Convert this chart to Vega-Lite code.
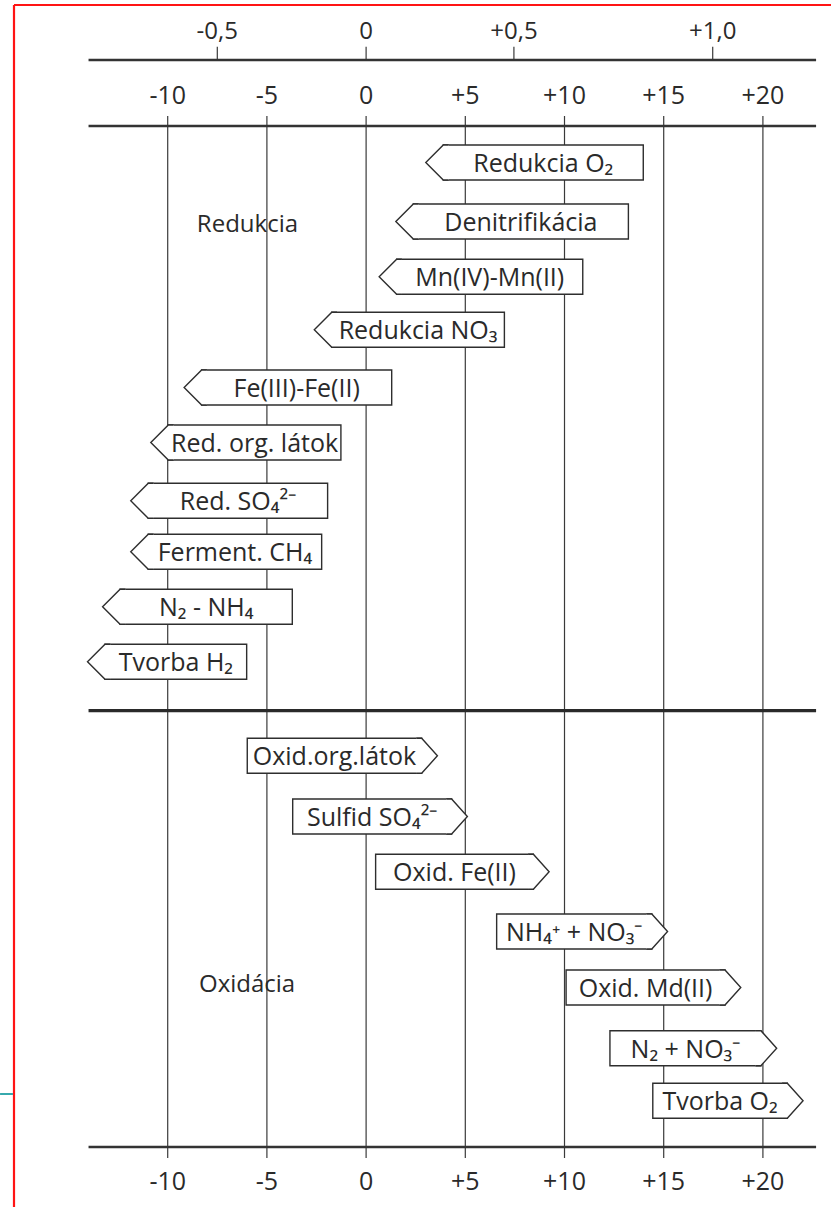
{
  "$schema": "https://vega.github.io/schema/vega-lite/v6.json",
  "width": 817,
  "height": 1202,
  "autosize": {"type": "none"},
  "padding": {"left": 14, "top": 5, "right": 0, "bottom": 0},
  "background": "white",
  "config": {"view": {"stroke": null}, "font": "Open Sans", "text": {"font": "Open Sans"}},
  "datasets": {
    "boxes": [
      {"label": "Redukcia O₂", "kind": "red", "base": 3.89, "end": 13.97, "top": 14.0, "bottom": 17.5},
      {"label": "Denitrifikácia", "kind": "red", "base": 2.38, "end": 13.22, "top": 19.9, "bottom": 23.4},
      {"label": "Mn(IV)-Mn(II)", "kind": "red", "base": 1.54, "end": 10.92, "top": 25.43, "bottom": 28.93},
      {"label": "Redukcia NO₃", "kind": "red", "base": -1.73, "end": 6.97, "top": 30.73, "bottom": 34.23},
      {"label": "Fe(III)-Fe(II)", "kind": "red", "base": -8.29, "end": 1.29, "top": 36.5, "bottom": 40.0},
      {"label": "Red. org. látok", "kind": "red", "base": -9.97, "end": -1.27, "top": 42.0, "bottom": 45.5},
      {"label": "Red. SO₄²⁻", "kind": "red", "base": -10.98, "end": -1.94, "top": 47.83, "bottom": 51.33},
      {"label": "Ferment. CH₄", "kind": "red", "base": -10.98, "end": -2.24, "top": 52.93, "bottom": 56.43},
      {"label": "N₂ - NH₄", "kind": "red", "base": -12.4, "end": -3.72, "top": 58.43, "bottom": 61.93},
      {"label": "Tvorba H₂", "kind": "red", "base": -13.16, "end": -6.02, "top": 63.93, "bottom": 67.43},
      {"label": "Oxid.org.látok", "kind": "ox", "base": -5.99, "end": 2.8, "top": 73.33, "bottom": 76.83},
      {"label": "Sulfid SO₄²⁻", "kind": "ox", "base": -3.7, "end": 4.31, "top": 79.4, "bottom": 82.9},
      {"label": "Oxid. Fe(II)", "kind": "ox", "base": 0.48, "end": 8.43, "top": 84.93, "bottom": 88.43},
      {"label": "NH₄⁺ + NO₃⁻", "kind": "ox", "base": 6.58, "end": 14.4, "top": 90.9, "bottom": 94.4},
      {"label": "Oxid. Md(II)", "kind": "ox", "base": 10.08, "end": 18.09, "top": 96.5, "bottom": 100.0},
      {"label": "N₂ + NO₃⁻", "kind": "ox", "base": 12.29, "end": 19.9, "top": 102.57, "bottom": 106.07},
      {"label": "Tvorba O₂", "kind": "ox", "base": 14.45, "end": 21.23, "top": 107.83, "bottom": 111.33}
    ],
    "grid": [
      {"pe": -10, "t": "-10"}, {"pe": -5, "t": "-5"}, {"pe": 0, "t": "0"}, {"pe": 5, "t": "+5"},
      {"pe": 10, "t": "+10"}, {"pe": 15, "t": "+15"}, {"pe": 20, "t": "+20"}
    ],
    "eh": [
      {"pos": -7.5, "t": "-0,5"}, {"pos": 0, "t": "0"}, {"pos": 7.45, "t": "+0,5"}, {"pos": 17.47, "t": "+1,0"}
    ],
    "hlines": [
      {"y": 5.5, "kind": "axis"}, {"y": 12.1, "kind": "axis"}, {"y": 70.57, "kind": "divider"}, {"y": 114.2, "kind": "axis"}
    ],
    "sections": [
      {"t": "Redukcia", "pos": -5.98, "y": 22.67},
      {"t": "Oxidácia", "pos": -6.0, "y": 98.73}
    ]
  },
  "layer": [
    {
      "data": {"values": [{}]},
      "mark": {"type": "rule", "color": "#ff1414", "strokeWidth": 2.2},
      "encoding": {
        "x": {"datum": -17.747, "type": "quantitative", "scale": {"domain": [-17.747, 23.432], "nice": false, "zero": false}, "axis": null},
        "y": {"datum": 0, "type": "quantitative", "scale": {"domain": [0, 120.2], "nice": false, "zero": false, "reverse": true}, "axis": null},
        "y2": {"datum": 120.2}
      }
    },
    {
      "data": {"values": [{}]},
      "mark": {"type": "rule", "color": "#ff1414", "strokeWidth": 2.2},
      "encoding": {
        "x": {"datum": -17.747, "type": "quantitative", "scale": {"domain": [-17.747, 23.432], "nice": false, "zero": false}, "axis": null},
        "x2": {"datum": 23.432},
        "y": {"datum": 0, "type": "quantitative", "scale": {"domain": [0, 120.2], "nice": false, "zero": false, "reverse": true}, "axis": null}
      }
    },
    {
      "data": {"values": [{}]},
      "mark": {"type": "rule", "color": "#36a9ad", "strokeWidth": 2},
      "encoding": {
        "x": {"datum": -18.45, "type": "quantitative", "scale": {"domain": [-17.747, 23.432], "nice": false, "zero": false}, "axis": null},
        "x2": {"datum": -17.8},
        "y": {"datum": 108.9, "type": "quantitative", "scale": {"domain": [0, 120.2], "nice": false, "zero": false, "reverse": true}, "axis": null}
      }
    },
    {
      "data": {"name": "grid"},
      "mark": {"type": "rule", "color": "#3a3a3a", "strokeWidth": 1.2},
      "encoding": {
        "x": {"field": "pe", "type": "quantitative", "scale": {"domain": [-17.747, 23.432], "nice": false, "zero": false}, "axis": null},
        "y": {"datum": 11.1, "type": "quantitative", "scale": {"domain": [0, 120.2], "nice": false, "zero": false, "reverse": true}, "axis": null},
        "y2": {"datum": 115.3}
      }
    },
    {
      "data": {"name": "eh"},
      "mark": {"type": "rule", "color": "#3a3a3a", "strokeWidth": 1.2},
      "encoding": {
        "x": {"field": "pos", "type": "quantitative", "scale": {"domain": [-17.747, 23.432], "nice": false, "zero": false}, "axis": null},
        "y": {"datum": 4.17, "type": "quantitative", "scale": {"domain": [0, 120.2], "nice": false, "zero": false, "reverse": true}, "axis": null},
        "y2": {"datum": 5.5}
      }
    },
    {
      "data": {"name": "hlines"},
      "transform": [{"filter": {"field": "kind", "equal": "axis"}}],
      "mark": {"type": "rule", "color": "#333333", "strokeWidth": 2.4},
      "encoding": {
        "x": {"datum": -13.99, "type": "quantitative", "scale": {"domain": [-17.747, 23.432], "nice": false, "zero": false}, "axis": null},
        "x2": {"datum": 22.68},
        "y": {"field": "y", "type": "quantitative", "scale": {"domain": [0, 120.2], "nice": false, "zero": false, "reverse": true}, "axis": null}
      }
    },
    {
      "data": {"name": "hlines"},
      "transform": [{"filter": {"field": "kind", "equal": "divider"}}],
      "mark": {"type": "rule", "color": "#2a2a2a", "strokeWidth": 3.2},
      "encoding": {
        "x": {"datum": -13.99, "type": "quantitative", "scale": {"domain": [-17.747, 23.432], "nice": false, "zero": false}, "axis": null},
        "x2": {"datum": 22.68},
        "y": {"field": "y", "type": "quantitative", "scale": {"domain": [0, 120.2], "nice": false, "zero": false, "reverse": true}, "axis": null}
      }
    },
    {
      "data": {"name": "boxes"},
      "mark": {"type": "rect", "fill": "white", "stroke": "#2e2e2e", "strokeWidth": 1.4, "opacity": 1},
      "encoding": {
        "x": {"field": "base", "type": "quantitative", "scale": {"domain": [-17.747, 23.432], "nice": false, "zero": false}, "axis": null},
        "x2": {"field": "end"},
        "y": {"field": "top", "type": "quantitative", "scale": {"domain": [0, 120.2], "nice": false, "zero": false, "reverse": true}, "axis": null},
        "y2": {"field": "bottom"}
      }
    },
    {
      "data": {"name": "boxes"},
      "transform": [{"filter": {"field": "kind", "equal": "red"}}],
      "mark": {"type": "point", "shape": "M0.3,0L0,0L-1,1L0,2L0.3,2", "size": 1225, "filled": true, "fill": "white", "stroke": "#2e2e2e", "strokeWidth": 1.4, "opacity": 1, "fillOpacity": 1, "strokeOpacity": 1},
      "encoding": {
        "x": {"field": "base", "type": "quantitative", "scale": {"domain": [-17.747, 23.432], "nice": false, "zero": false}, "axis": null},
        "y": {"field": "top", "type": "quantitative", "scale": {"domain": [0, 120.2], "nice": false, "zero": false, "reverse": true}, "axis": null}
      }
    },
    {
      "data": {"name": "boxes"},
      "transform": [{"filter": {"field": "kind", "equal": "ox"}}],
      "mark": {"type": "point", "shape": "M-0.3,0L0,0L0.9,1L0,2L-0.3,2", "size": 1225, "filled": true, "fill": "white", "stroke": "#2e2e2e", "strokeWidth": 1.4, "opacity": 1, "fillOpacity": 1, "strokeOpacity": 1},
      "encoding": {
        "x": {"field": "end", "type": "quantitative", "scale": {"domain": [-17.747, 23.432], "nice": false, "zero": false}, "axis": null},
        "y": {"field": "top", "type": "quantitative", "scale": {"domain": [0, 120.2], "nice": false, "zero": false, "reverse": true}, "axis": null}
      }
    },
    {
      "data": {"name": "boxes"},
      "transform": [{"fold": ["base", "end"], "as": ["edge", "xv"]}],
      "mark": {"type": "text", "fontSize": 25, "color": "#2a2a2a", "align": "center", "baseline": "alphabetic", "dy": -8},
      "encoding": {
        "x": {"field": "xv", "aggregate": "mean", "type": "quantitative", "scale": {"domain": [-17.747, 23.432], "nice": false, "zero": false}, "axis": null},
        "y": {"field": "bottom", "type": "quantitative", "scale": {"domain": [0, 120.2], "nice": false, "zero": false, "reverse": true}, "axis": null},
        "text": {"field": "label", "type": "nominal"}
      }
    },
    {
      "data": {"name": "eh"},
      "mark": {"type": "text", "fontSize": 24, "color": "#2a2a2a", "align": "center", "baseline": "alphabetic"},
      "encoding": {
        "x": {"field": "pos", "type": "quantitative", "scale": {"domain": [-17.747, 23.432], "nice": false, "zero": false}, "axis": null},
        "y": {"datum": 3.4, "type": "quantitative", "scale": {"domain": [0, 120.2], "nice": false, "zero": false, "reverse": true}, "axis": null},
        "text": {"field": "t", "type": "nominal"}
      }
    },
    {
      "data": {"name": "grid"},
      "mark": {"type": "text", "fontSize": 25, "color": "#2a2a2a", "align": "center", "baseline": "alphabetic"},
      "encoding": {
        "x": {"field": "pe", "type": "quantitative", "scale": {"domain": [-17.747, 23.432], "nice": false, "zero": false}, "axis": null},
        "y": {"datum": 9.9, "type": "quantitative", "scale": {"domain": [0, 120.2], "nice": false, "zero": false, "reverse": true}, "axis": null},
        "text": {"field": "t", "type": "nominal"}
      }
    },
    {
      "data": {"name": "grid"},
      "mark": {"type": "text", "fontSize": 25, "color": "#2a2a2a", "align": "center", "baseline": "alphabetic"},
      "encoding": {
        "x": {"field": "pe", "type": "quantitative", "scale": {"domain": [-17.747, 23.432], "nice": false, "zero": false}, "axis": null},
        "y": {"datum": 118.5, "type": "quantitative", "scale": {"domain": [0, 120.2], "nice": false, "zero": false, "reverse": true}, "axis": null},
        "text": {"field": "t", "type": "nominal"}
      }
    },
    {
      "data": {"name": "sections"},
      "mark": {"type": "text", "fontSize": 24, "color": "#2a2a2a", "align": "center", "baseline": "alphabetic"},
      "encoding": {
        "x": {"field": "pos", "type": "quantitative", "scale": {"domain": [-17.747, 23.432], "nice": false, "zero": false}, "axis": null},
        "y": {"field": "y", "type": "quantitative", "scale": {"domain": [0, 120.2], "nice": false, "zero": false, "reverse": true}, "axis": null},
        "text": {"field": "t", "type": "nominal"}
      }
    }
  ]
}
